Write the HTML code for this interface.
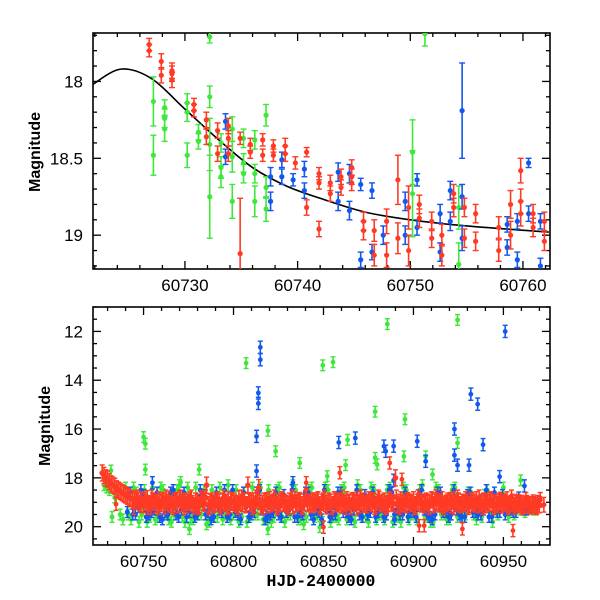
<!DOCTYPE html>
<html><head><meta charset="utf-8"><style>
html,body{margin:0;padding:0;background:#fff}
svg{display:block}
text{font-family:"Liberation Sans",sans-serif}
</style></head><body>
<svg id="chart" width="600" height="600" viewBox="0 0 600 600" xmlns="http://www.w3.org/2000/svg">
<defs>
<clipPath id="clipTop"><rect x="93" y="33" width="457" height="236"/></clipPath>
<clipPath id="clipBot"><rect x="93" y="307" width="457" height="238"/></clipPath>
</defs>
</svg>
<script>
// ===== TOP PANEL DATA =====
const topRedDays = [60726.83,60726.83,60727.9,60727.9,60728.85,60728.85,60728.85,60730.8,60730.8,60731.9,60731.9,60732.9,60732.9,60733.85,60733.85,60733.85,60734.9,60734.9,60735.8,60735.8,60736.9,60736.9,60737.85,60737.85,60738.9,60738.9,60739.8,60740.8,60740.8,60741.9,60741.9,60741.9,60742.9,60742.9,60743.85,60743.85,60744.8,60744.8,60744.8,60745.85,60745.85,60746.8,60746.8,60747.9,60747.9,60748.9,60748.9,60749.85,60749.85,60750.8,60750.8,60751.9,60751.9,60752.8,60752.8,60753.85,60753.85,60754.8,60754.8,60755.8,60755.8,60757.85,60757.85,60758.9,60758.9,60759.8,60759.8,60759.8,60760.9,60760.9,60761.9,60761.9];
const topRedMags = [17.76,17.80,17.87,17.96,17.93,17.99,17.95,18.15,18.19,18.25,18.36,18.32,18.47,18.37,18.47,18.29,18.37,19.12,18.41,18.46,18.38,18.48,18.42,18.48,18.42,18.47,18.53,18.46,18.82,18.60,18.66,18.96,18.66,18.73,18.62,18.69,18.56,18.62,18.66,18.91,18.97,18.97,19.13,18.91,19.13,18.64,19.02,18.82,19.10,18.80,18.89,18.91,19.02,19.00,19.13,18.73,18.82,18.82,19.02,18.86,19.04,18.95,19.10,18.80,19.00,18.58,18.78,18.86,18.86,18.95,18.91,19.04];
const topRedErrs = [0.04,0.04,0.05,0.05,0.05,0.05,0.05,0.04,0.04,0.05,0.05,0.05,0.05,0.05,0.05,0.05,0.04,0.36,0.04,0.04,0.04,0.04,0.04,0.04,0.05,0.05,0.04,0.03,0.05,0.04,0.04,0.05,0.05,0.05,0.05,0.05,0.05,0.05,0.05,0.06,0.06,0.07,0.07,0.08,0.08,0.16,0.10,0.14,0.10,0.06,0.06,0.06,0.06,0.07,0.07,0.06,0.06,0.06,0.06,0.06,0.06,0.07,0.07,0.09,0.09,0.08,0.08,0.08,0.06,0.06,0.06,0.06];
const topBlueDays = [60733.6,60733.6,60737.6,60737.6,60738.6,60738.6,60739.6,60740.6,60740.6,60743.6,60743.6,60744.6,60744.6,60745.6,60745.6,60746.6,60746.6,60747.6,60749.55,60749.55,60750.6,60750.6,60752.65,60752.65,60753.55,60753.55,60754.6,60754.6,60754.6,60758.6,60758.6,60759.5,60759.5,60760.5,60760.5,60761.55,60761.55];
const topBlueMags = [18.26,18.49,18.62,18.78,18.51,18.62,18.64,18.57,18.71,18.59,18.78,18.60,18.84,18.67,19.16,18.71,19.11,19.00,18.78,19.00,18.64,18.95,18.86,19.11,18.71,18.91,18.19,18.75,19.02,18.93,19.08,18.91,19.16,18.53,18.86,18.91,19.20];
const topBlueErrs = [0.05,0.05,0.06,0.06,0.05,0.05,0.04,0.05,0.05,0.06,0.06,0.06,0.06,0.04,0.05,0.05,0.05,0.06,0.06,0.06,0.04,0.05,0.06,0.06,0.06,0.06,0.31,0.08,0.08,0.05,0.05,0.05,0.05,0.03,0.05,0.05,0.05];
const topGreenDays = [60727.2,60727.2,60728.2,60728.2,60728.2,60730.2,60730.2,60730.2,60731.2,60731.2,60732.2,60732.2,60732.2,60732.2,60733.2,60733.2,60733.2,60734.2,60734.2,60734.2,60735.2,60735.2,60735.2,60736.2,60736.2,60736.2,60737.2,60737.2,60737.2,60750.2,60750.2,60751.3,60754.3,60754.3];
const topGreenMags = [18.13,18.48,18.17,18.24,18.31,18.14,18.20,18.48,18.33,18.39,17.71,18.10,18.41,18.75,18.40,18.56,18.62,18.31,18.49,18.78,18.37,18.53,18.60,18.38,18.60,18.78,18.22,18.69,18.83,18.46,18.73,17.69,18.82,19.19];
const topGreenErrs = [0.16,0.13,0.05,0.06,0.08,0.06,0.06,0.08,0.05,0.05,0.04,0.07,0.17,0.27,0.06,0.07,0.07,0.08,0.10,0.11,0.06,0.06,0.06,0.06,0.06,0.10,0.07,0.07,0.08,0.21,0.28,0.08,0.14,0.14];
const curveDays = [60721.8,60724.3,60727,60730,60733,60736,60739,60742,60746,60750,60755,60762.3];
const curveMags = [18.02,17.92,17.98,18.18,18.38,18.56,18.68,18.76,18.85,18.90,18.94,18.98];

// ===== BOTTOM PANEL DATA =====
const botRedStart = 60727;
const botRedMags = [17.80,17.90,18.00,18.05,18.15,18.25,18.30,18.35,18.45,18.50,18.55,18.60,18.65,18.70,18.75,18.80,18.85,18.85,18.90,18.95,
18.95,19.05,18.90,19.10,19.00,18.85,19.05,19.15,18.95,19.00,19.10,18.90,19.00,19.05,18.95,19.15,19.00,18.90,19.05,19.10,
18.95,19.00,19.10,18.85,19.05,19.00,18.95,19.10,19.00,18.90,19.05,19.15,18.95,19.00,19.10,18.85,19.00,19.05,18.30,19.10,
19.00,18.95,19.10,19.05,18.90,19.00,19.15,18.95,19.05,19.00,18.90,19.10,19.00,18.95,19.05,19.10,18.85,19.00,19.05,18.95,
19.10,18.30,19.00,19.05,18.95,19.10,18.90,18.40,19.15,19.05,18.95,19.00,19.10,18.90,19.05,19.00,18.95,19.10,19.00,19.05,
18.90,19.00,19.05,19.10,18.95,19.00,19.15,18.90,19.05,19.00,18.95,19.10,19.00,18.85,19.05,19.00,19.10,18.95,19.00,19.05,
18.90,19.10,19.00,18.95,19.05,19.15,18.95,19.00,19.10,18.90,19.05,19.00,18.95,19.10,19.00,19.05,18.90,19.00,19.15,18.95,
19.05,19.00,18.90,19.10,19.00,18.95,19.05,19.10,18.90,19.00,19.05,18.95,19.10,19.00,18.90,19.05,19.00,18.95,19.10,19.05,
18.90,19.00,19.05,18.00,19.10,19.00,18.90,19.05,19.00,19.10,18.95,19.00,19.05,18.90,19.10,19.00,18.95,19.05,19.00,19.10,
18.95,19.00,19.05,18.90,19.10,19.00,18.95,19.05,19.00,18.90,19.10,19.05,18.95,19.00,19.10,18.90,19.05,19.00,18.95,19.10,
19.00,19.05,18.90,19.00,19.10,18.95,19.05,19.00,18.90,19.10,19.05,19.00,18.95,19.10,19.00,19.05,18.90,19.00,19.05,19.10,
19.00,18.95,19.10,19.05,19.00,18.90,19.10,19.05,19.00,19.15,19.05,19.00,19.10,19.05,19.15,19.10,19.05,19.10,19.15,19.10,
19.10,19.15,19.05,19.10];
const botRed2Start = 60744.5;
const botRed2Mags = [19.2,18.8,19.1,18.9,19.2,18.8,19.0,19.2,18.9,18.8,19.1,19.2,18.9,18.8,19.2,19.0,18.8,19.1,19.2,18.9,
18.8,19.2,19.0,18.9,19.1,18.8,19.2,18.9,19.0,19.2,18.8,19.1,18.9,19.2,18.8,19.0,19.2,18.9,19.1,18.8,
19.2,18.9,19.0,19.2,18.8,19.1,18.9,19.2,18.8,19.0,19.1,18.9,19.2,18.8,19.0,19.2,18.9,19.1,18.8,19.2,
19.0,18.9,19.2,18.8,19.1,19.0,18.9,19.2,18.8,19.1,19.2,18.9,19.0,18.8,19.2,19.1,18.9,19.0,19.2,18.8,
19.1,19.0,19.2,18.9,18.8,19.1,19.2,19.0,18.9,19.2,18.8,19.1,19.0,19.2,18.9,19.1,18.8,19.2,19.0,18.9,
19.2,19.1,18.9,19.0,19.2,18.8,19.1,19.0,19.2,18.9,19.1,19.0,19.2,18.9,19.1];
const botRedOutDays = [60859.1,60886.8,60893.6,60734.7,60850,60903.2,60906,60927.2,60955.3,60840.4];
const botRedOutMags = [17.79,17.39,18.06,19.08,20.02,19.96,19.96,20.09,20.16,18.20];
const botBlueStart = 60741;
const botBlueMags = [19.4,19.5,19.2,18.7,19.5,19.3,19.6,19.4,18.6,19.5,
19.3,19.6,19.2,19.5,18.7,19.4,19.6,19.3,18.5,19.5,
19.4,19.7,19.2,19.5,18.6,19.3,19.6,19.4,19.5,18.7,
19.3,19.6,19.4,18.6,19.5,19.3,19.7,19.2,19.5,18.6,
19.4,19.6,19.3,19.5,18.7,19.4,19.6,19.2,19.5,18.6,
19.3,19.5,19.6,19.4,18.7,19.3,19.6,19.5,18.6,19.4,
19.5,19.3,19.6,18.7,19.4,19.5,19.3,19.6,18.6,19.4,
19.5,19.3,19.4,19.2,19.3,19.2];
const botBlue2Start = 60742.5;
const botBlue2Mags = [18.6,19.5,18.5,19.6,19.4,18.6,19.7,19.5,18.5,19.6,
18.6,19.4,19.6,18.5,19.5,19.7,18.6,19.4,19.6,18.5,
19.5,18.6,19.6,19.4,18.5,19.7,19.5,18.6,19.6,19.4,
18.5,19.6,19.5,18.6,19.7,19.4,18.5,19.6,19.5,18.6,
19.4,19.7,18.5,19.6,19.5,18.6,19.4,19.6,18.5,19.7,
19.5,18.6,19.4,19.6,18.5,19.5,19.7,18.6,19.4,19.6,
18.5,19.5,19.6,18.6,19.4,19.5,18.5,19.6,19.4,18.7,
19.3,19.4,18.8,19.3,19.2];
const botBlueOutDays = [60814.9,60814.9,60813.8,60813.8,60812.8,60812.8,60951,60931.9,60935.7,60938.7,60922.8,60922.8,60924.5,60858.5,60867.7,60902.1,60883.6,60884.6,60889,60906.8,60930.9,60754.9,60947.9,60961.7,60833,60889,60889.5];
const botBlueOutMags = [12.65,13.16,14.52,14.95,16.30,17.72,12.00,14.57,14.98,16.64,16.00,17.07,17.48,16.55,16.37,16.50,16.70,16.91,16.70,17.32,17.48,18.20,17.95,18.33,18.20,18.10,19.50];
const botGreenStart = 60728;
const botGreenMags = [18.3,18.5,18.8,19.5,18.4,19.7,18.6,19.5,19.8,18.4,
19.6,18.5,19.7,19.5,18.3,19.8,19.6,18.4,19.5,19.9,
18.5,19.6,19.7,18.3,19.5,19.8,18.6,19.6,19.5,18.4,
19.7,19.8,18.5,19.6,19.5,18.3,19.7,19.9,18.5,19.6,
19.5,18.4,19.8,19.6,18.5,19.7,19.5,18.3,19.6,19.8,
18.5,19.5,19.7,18.4,19.6,19.8,18.5,19.5,19.7,18.3,
19.6,19.8,18.5,19.5,19.7,18.4,19.6,19.5,18.6,19.7,
19.6,18.5,19.8,19.5,18.4,19.6,19.5,19.3,19.4,19.2,
19.3];
const botGreen2Start = 60729.5;
const botGreen2Mags = [18.4,19.6,18.5,19.7,19.5,18.4,19.8,18.5,19.6,19.7,
18.4,19.5,19.8,18.5,19.6,18.4,19.7,19.5,18.5,19.8,
19.6,18.4,19.5,19.7,18.5,19.6,19.8,18.4,19.5,19.7,
18.5,19.6,18.4,19.8,19.5,18.5,19.7,19.6,18.4,19.5,
19.8,18.5,19.6,19.7,18.4,19.5,19.8,18.5,19.6,18.4,
19.7,19.5,18.5,19.8,19.6,18.4,19.7,19.5,18.5,19.6,
19.8,18.4,19.5,19.7,18.5,19.6,19.4,18.6,19.5,19.3,
18.7,19.4,19.3,18.8,19.2,19.3,19.2,19.3,19.2,19.3];
const botGreenOutDays = [60885.5,60924.5,60807,60849.6,60855.3,60878.7,60895.3,60750,60751,60819.1,60823.4,60863.4,60862.3,60924.5,60878.7,60879.8,60894.7,60906.8,60910.6,60751,60731.9,60770.6,60780.9,60836.8,60852.1,60959.6,60819.1,60847.9,60775.5];
const botGreenOutMags = [11.70,11.53,13.30,13.39,13.26,15.29,15.60,16.33,16.60,16.07,16.91,16.44,17.48,16.57,17.18,17.45,17.12,17.12,17.86,17.66,17.70,18.17,17.66,17.39,17.93,18.10,20.10,20.02,20.10];

// ===== DRAWING =====
const NS = 'http://www.w3.org/2000/svg';
const svg = document.getElementById('chart');
const COL = {red:'#ff3a24', green:'#3ee83a', blue:'#1258ee'};

function el(tag, attrs, parent){
  const e = document.createElementNS(NS, tag);
  for (const k in attrs) e.setAttribute(k, attrs[k]);
  (parent || svg).appendChild(e);
  return e;
}

const topP = {x0:93, x1:550, y0:33, y1:269, d0:60721.84, d1:60762.4, m0:17.685, m1:19.22};
const botP = {x0:93, x1:550, y0:307, y1:545, d0:60721.9, d1:60975.9, m0:11.0, m1:20.75};
function xs(p, d){ return p.x0 + (d - p.d0) / (p.d1 - p.d0) * (p.x1 - p.x0); }
function ys(p, m){ return p.y0 + (m - p.m0) / (p.m1 - p.m0) * (p.y1 - p.y0); }

function drawAxes(p, name, xMaj, xMin, yMaj, yMin, yFmt){
  const g = el('g', {});
  
  
  const frame = el('rect', {x:p.x0, y:p.y0, width:p.x1-p.x0, height:p.y1-p.y0, fill:'none', stroke:'#000', 'stroke-width':1.6}, g);
  
  
  const eps = 1e-6;
  for (let d = Math.ceil(p.d0 / xMin) * xMin; d <= p.d1; d += xMin) {
    const isMaj = Math.abs(d / xMaj - Math.round(d / xMaj)) < eps;
    const L = isMaj ? 8 : 4, x = xs(p, d);
    el('line', {x1:x, x2:x, y1:p.y1, y2:p.y1-L, stroke:'#000', 'stroke-width':1.3}, g);
    el('line', {x1:x, x2:x, y1:p.y0, y2:p.y0+L, stroke:'#000', 'stroke-width':1.3}, g);
    if (isMaj) {
      const t = el('text', {x:x, y:p.y1+22, 'text-anchor':'middle', 'font-size':17}, g);
      
      
      t.textContent = String(Math.round(d));
    }
  }
  const n0 = Math.ceil(p.m0 / yMin - eps), n1 = Math.floor(p.m1 / yMin + eps);
  for (let n = n0; n <= n1; n++) {
    const m = n * yMin;
    const isMaj = Math.abs(m / yMaj - Math.round(m / yMaj)) < eps;
    const L = isMaj ? 8 : 4, y = ys(p, m);
    el('line', {x1:p.x0, x2:p.x0+L, y1:y, y2:y, stroke:'#000', 'stroke-width':1.3}, g);
    el('line', {x1:p.x1, x2:p.x1-L, y1:y, y2:y, stroke:'#000', 'stroke-width':1.3}, g);
    if (isMaj) {
      const t = el('text', {x:p.x0-10, y:y+6, 'text-anchor':'end', 'font-size':17}, g);
      
      
      t.textContent = yFmt(m);
    }
  }
}

function drawSeries(p, clip, name, color, days, mags, errs, defErr, cap, r){
  const g = el('g', {'clip-path':'url(#' + clip + ')'});
  
  
  for (let i = 0; i < mags.length; i++) {
    const x = xs(p, days[i]), y = ys(p, mags[i]);
    const e = errs ? errs[i] : defErr;
    const ya = ys(p, mags[i] - e), yb = ys(p, mags[i] + e);
    el('line', {x1:x, x2:x, y1:ya, y2:yb, stroke:color, 'stroke-width':1.6}, g);
    el('line', {x1:x-cap, x2:x+cap, y1:ya, y2:ya, stroke:color, 'stroke-width':1.4}, g);
    el('line', {x1:x-cap, x2:x+cap, y1:yb, y2:yb, stroke:color, 'stroke-width':1.4}, g);
    const c = el('circle', {cx:x, cy:y, r:r, fill:color}, g);
    
    
  }
}

function rangeDays(start, n){ const a = []; for (let i = 0; i < n; i++) a.push(start + i); return a; }
function rangeDays2(start, n){ const a = []; for (let i = 0; i < n; i++) a.push(start + 2 * i); return a; }
function rangeDays3(start, n){ const a = []; for (let i = 0; i < n; i++) a.push(start + 3 * i); return a; }

// --- top panel ---
drawAxes(topP, 'top-panel', 10, 2, 0.5, 0.1, m => (Math.abs(m - Math.round(m)) < 1e-6 ? String(Math.round(m)) : m.toFixed(1)));
(function(){
  const pts = curveDays.map((d, i) => [xs(topP, d), ys(topP, curveMags[i])]);
  let dstr = 'M' + pts[0][0] + ',' + pts[0][1];
  for (let i = 0; i < pts.length - 1; i++) {
    const p0 = pts[Math.max(0, i-1)], p1 = pts[i], p2 = pts[i+1], p3 = pts[Math.min(pts.length-1, i+2)];
    const c1x = p1[0] + (p2[0]-p0[0])/6, c1y = p1[1] + (p2[1]-p0[1])/6;
    const c2x = p2[0] - (p3[0]-p1[0])/6, c2y = p2[1] - (p3[1]-p1[1])/6;
    dstr += ' C' + c1x + ',' + c1y + ' ' + c2x + ',' + c2y + ' ' + p2[0] + ',' + p2[1];
  }
  const path = el('path', {d:dstr, fill:'none', stroke:'#000', 'stroke-width':1.6, 'clip-path':'url(#clipTop)'});
  
  
})();
drawSeries(topP, 'clipTop', 'top-green-series', COL.green, topGreenDays, topGreenMags, topGreenErrs, 0, 3, 2.6);
drawSeries(topP, 'clipTop', 'top-blue-series', COL.blue, topBlueDays, topBlueMags, topBlueErrs, 0, 3, 2.6);
drawSeries(topP, 'clipTop', 'top-red-series', COL.red, topRedDays, topRedMags, topRedErrs, 0, 3, 2.6);

// --- bottom panel ---
drawAxes(botP, 'bottom-panel', 50, 10, 2, 0.5, m => String(Math.round(m)));
drawSeries(botP, 'clipBot', 'bottom-green-series', COL.green, rangeDays3(botGreenStart, botGreenMags.length), botGreenMags, null, 0.22, 2.5, 2.5);
drawSeries(botP, 'clipBot', 'bottom-green-series-2', COL.green, rangeDays3(botGreen2Start, botGreen2Mags.length), botGreen2Mags, null, 0.22, 2.5, 2.5);
drawSeries(botP, 'clipBot', 'bottom-green-outliers', COL.green, botGreenOutDays, botGreenOutMags, null, 0.22, 2.5, 2.4);
drawSeries(botP, 'clipBot', 'bottom-blue-series', COL.blue, rangeDays3(botBlueStart, botBlueMags.length), botBlueMags, null, 0.22, 2.5, 2.5);
drawSeries(botP, 'clipBot', 'bottom-blue-series-2', COL.blue, rangeDays3(botBlue2Start, botBlue2Mags.length), botBlue2Mags, null, 0.22, 2.5, 2.5);
drawSeries(botP, 'clipBot', 'bottom-blue-outliers', COL.blue, botBlueOutDays, botBlueOutMags, null, 0.25, 2.5, 2.4);
drawSeries(botP, 'clipBot', 'bottom-red-series', COL.red, rangeDays(botRedStart, botRedMags.length), botRedMags, null, 0.33, 2.5, 2.8);
drawSeries(botP, 'clipBot', 'bottom-red-series-2', COL.red, rangeDays2(botRed2Start, botRed2Mags.length), botRed2Mags, null, 0.3, 2.5, 2.6);
drawSeries(botP, 'clipBot', 'bottom-red-outliers', COL.red, botRedOutDays, botRedOutMags, null, 0.25, 2.5, 2.4);

// --- axis titles ---
const yt1 = el('text', {x:0, y:0, transform:'translate(40,152) rotate(-90)', 'text-anchor':'middle', 'font-size':16, 'font-weight':'bold'});


yt1.textContent = 'Magnitude';
const yt2 = el('text', {x:0, y:0, transform:'translate(50,426) rotate(-90)', 'text-anchor':'middle', 'font-size':16, 'font-weight':'bold'});


yt2.textContent = 'Magnitude';
const xt = el('text', {x:321, y:586, 'text-anchor':'middle', 'font-size':16.5, 'font-weight':'bold', style:'font-family:"Liberation Mono",monospace'});


xt.textContent = 'HJD-2400000';
</script>
</body></html>
